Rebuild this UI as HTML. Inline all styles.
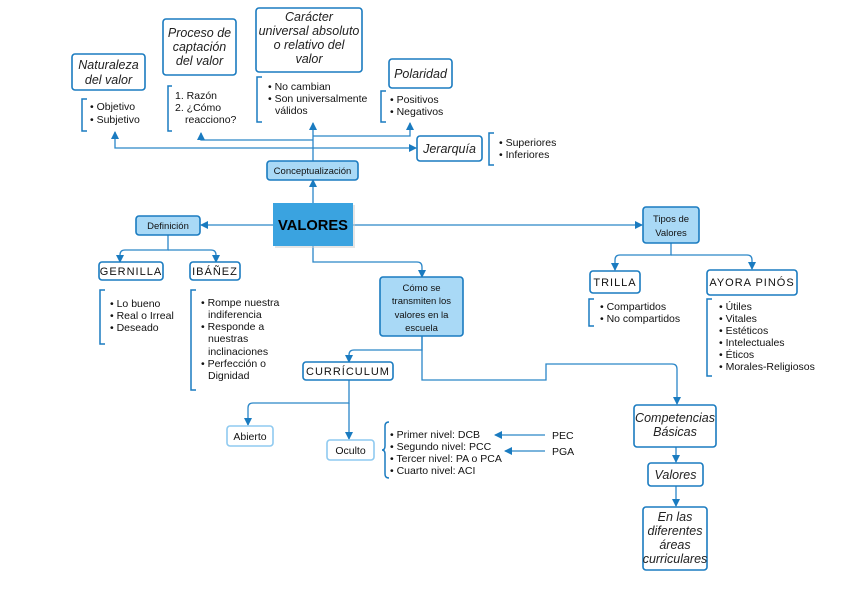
<!DOCTYPE html>
<html><head><meta charset="utf-8"><style>
html,body{margin:0;padding:0;background:#fff;}
svg{display:block}
.t{font-family:"Liberation Sans",sans-serif;font-size:10.5px;fill:#111}
.i{font-family:"Liberation Sans",sans-serif;font-style:italic;font-size:12.5px;fill:#222}
.c{font-family:"Liberation Sans",sans-serif;font-size:9.5px;fill:#111}
.h{font-family:"Liberation Sans",sans-serif;font-size:11px;fill:#111;letter-spacing:1px}
.box{fill:#fff;stroke:#1a7bc0;stroke-width:1.6}
.lb{fill:#a9d9f6;stroke:#1a7bc0;stroke-width:1.6}
.pale{fill:#fff;stroke:#8fcaf0;stroke-width:1.6}
.ln{fill:none;stroke:#2a86c8;stroke-width:1.3}
.br{fill:none;stroke:#1a7bc0;stroke-width:1.5}
</style></head><body>
<svg width="848" height="599" viewBox="0 0 848 599" xmlns="http://www.w3.org/2000/svg">
<defs><marker id="a" markerWidth="8" markerHeight="8" refX="7" refY="4" orient="auto" markerUnits="userSpaceOnUse"><path d="M0,0 L8,4 L0,8 z" fill="#1a7bc0"/></marker></defs>

<path class="ln" d="M313,203 V180" marker-end="url(#a)"/>
<path class="ln" d="M313,161 V123" marker-end="url(#a)"/>
<path class="ln" d="M313,148 H115 V132" marker-end="url(#a)"/>
<path class="ln" d="M313,148 H416" marker-end="url(#a)"/>
<path class="ln" d="M313,140 H201 V133" marker-end="url(#a)"/>
<path class="ln" d="M313,136 H410 V123" marker-end="url(#a)"/>
<path class="ln" d="M273,225 H201" marker-end="url(#a)"/>
<path class="ln" d="M168,235 V250 H125 Q120,250 120,255 V262" marker-end="url(#a)"/>
<path class="ln" d="M168,250 H211 Q216,250 216,255 V262" marker-end="url(#a)"/>
<path class="ln" d="M353,225 H642" marker-end="url(#a)"/>
<path class="ln" d="M313,246 V262 H417 Q422,262 422,267 V277" marker-end="url(#a)"/>
<path class="ln" d="M422,336 V350 H354 Q349,350 349,355 V362" marker-end="url(#a)"/>
<path class="ln" d="M422,336 V380 H546 V364 H672 Q677,364 677,369 V404" marker-end="url(#a)"/>
<path class="ln" d="M349,380 V403 H253 Q248,403 248,408 V425" marker-end="url(#a)"/>
<path class="ln" d="M349,403 V439" marker-end="url(#a)"/>
<path class="ln" d="M545,435 H495" marker-end="url(#a)"/>
<path class="ln" d="M545,451 H505" marker-end="url(#a)"/>
<path class="ln" d="M671,243 V255 H620 Q615,255 615,260 V270" marker-end="url(#a)"/>
<path class="ln" d="M671,255 H747 Q752,255 752,260 V269" marker-end="url(#a)"/>
<path class="ln" d="M676,447 V462" marker-end="url(#a)"/>
<path class="ln" d="M676,486 V506" marker-end="url(#a)"/>

<rect class="box" x="72" y="54" width="73" height="36" rx="3"/>
<text class="i" x="108.5" y="69" text-anchor="middle">Naturaleza</text>
<text class="i" x="108.5" y="84" text-anchor="middle">del valor</text>
<path class="br" d="M87,99 H82 V131 H87"/>
<text class="t" x="90" y="110">• Objetivo</text>
<text class="t" x="90" y="123">• Subjetivo</text>

<rect class="box" x="163" y="19" width="73" height="56" rx="3"/>
<text class="i" x="199.5" y="37" text-anchor="middle">Proceso de</text>
<text class="i" x="199.5" y="51" text-anchor="middle">captación</text>
<text class="i" x="199.5" y="65" text-anchor="middle">del valor</text>
<path class="br" d="M172,86 H168 V131 H172"/>
<text class="t" x="175" y="99">1. Razón</text>
<text class="t" x="175" y="111">2. ¿Cómo</text>
<text class="t" x="185" y="123">reacciono?</text>

<rect class="box" x="256" y="8" width="106" height="64" rx="3"/>
<text class="i" x="309" y="21" text-anchor="middle">Carácter</text>
<text class="i" x="309" y="35" text-anchor="middle">universal absoluto</text>
<text class="i" x="309" y="49" text-anchor="middle">o relativo del</text>
<text class="i" x="309" y="63" text-anchor="middle">valor</text>
<path class="br" d="M262,77 H257 V122 H262"/>
<text class="t" x="268" y="90">• No cambian</text>
<text class="t" x="268" y="102">• Son universalmente</text>
<text class="t" x="275" y="114">válidos</text>

<rect class="box" x="389" y="59" width="63" height="29" rx="3"/>
<text class="i" x="420.5" y="78" text-anchor="middle">Polaridad</text>
<path class="br" d="M386,91 H381 V122 H386"/>
<text class="t" x="390" y="103">• Positivos</text>
<text class="t" x="390" y="115">• Negativos</text>

<rect class="box" x="417" y="136" width="65" height="25" rx="3"/>
<text class="i" x="449.5" y="153" text-anchor="middle">Jerarquía</text>
<path class="br" d="M494,133 H489 V165 H494"/>
<text class="t" x="499" y="146">• Superiores</text>
<text class="t" x="499" y="158">• Inferiores</text>

<rect class="lb" x="267" y="161" width="91" height="19" rx="3"/>
<text class="c" x="312.5" y="174" text-anchor="middle">Conceptualización</text>

<rect x="275" y="205" width="80" height="43" fill="#ccc" opacity="0.5"/>
<rect x="273" y="203" width="80" height="43" fill="#3aa3e0"/>
<text x="313" y="230" text-anchor="middle" textLength="70" lengthAdjust="spacingAndGlyphs" style="font-family:'Liberation Sans',sans-serif;font-weight:bold;font-size:15px;fill:#000">VALORES</text>

<rect class="lb" x="136" y="216" width="64" height="19" rx="3"/>
<text class="c" x="168" y="229" text-anchor="middle">Definición</text>
<rect class="box" x="99" y="262" width="64" height="18" rx="3"/>
<text class="h" x="131" y="275" text-anchor="middle">GERNILLA</text>
<rect class="box" x="190" y="262" width="50" height="18" rx="3"/>
<text class="h" x="215" y="275" text-anchor="middle">IBÁÑEZ</text>
<path class="br" d="M105,290 H100 V344 H105"/>
<text class="t" x="110" y="307">• Lo bueno</text>
<text class="t" x="110" y="319">• Real o Irreal</text>
<text class="t" x="110" y="331">• Deseado</text>
<path class="br" d="M196,290 H191 V390 H196"/>
<text class="t" x="201" y="306">• Rompe nuestra</text>
<text class="t" x="208" y="318">indiferencia</text>
<text class="t" x="201" y="330">• Responde a</text>
<text class="t" x="208" y="342">nuestras</text>
<text class="t" x="208" y="355">inclinaciones</text>
<text class="t" x="201" y="367">• Perfección o</text>
<text class="t" x="208" y="379">Dignidad</text>

<rect class="lb" x="380" y="277" width="83" height="59" rx="3"/>
<text class="c" x="421.5" y="291" text-anchor="middle">Cómo se</text>
<text class="c" x="421.5" y="304" text-anchor="middle">transmiten los</text>
<text class="c" x="421.5" y="318" text-anchor="middle">valores en la</text>
<text class="c" x="421.5" y="331" text-anchor="middle">escuela</text>
<rect class="box" x="303" y="362" width="90" height="18" rx="3"/>
<text class="h" x="348" y="375" text-anchor="middle">CURRÍCULUM</text>
<rect class="pale" x="227" y="426" width="46" height="20" rx="3"/>
<text class="t" x="250" y="440" text-anchor="middle">Abierto</text>
<rect class="pale" x="327" y="440" width="47" height="20" rx="3"/>
<text class="t" x="350.5" y="454" text-anchor="middle">Oculto</text>
<path class="br" d="M389,422 Q385,422 385,426 V446 Q385,450 382,450 Q385,450 385,454 V474 Q385,478 389,478"/>
<text class="t" x="390" y="438">• Primer nivel: DCB</text>
<text class="t" x="390" y="450">• Segundo nivel: PCC</text>
<text class="t" x="390" y="462">• Tercer nivel: PA o PCA</text>
<text class="t" x="390" y="474">• Cuarto nivel: ACI</text>
<text class="t" x="552" y="439">PEC</text>
<text class="t" x="552" y="455">PGA</text>

<rect class="lb" x="643" y="207" width="56" height="36" rx="3"/>
<text class="c" x="671" y="222" text-anchor="middle">Tipos de</text>
<text class="c" x="671" y="236" text-anchor="middle">Valores</text>
<rect class="box" x="590" y="271" width="50" height="22" rx="3"/>
<text class="h" x="615" y="286" text-anchor="middle">TRILLA</text>
<rect class="box" x="707" y="270" width="90" height="25" rx="3"/>
<text class="h" x="752" y="286" text-anchor="middle">AYORA PINÓS</text>
<path class="br" d="M594,299 H589 V326 H594"/>
<text class="t" x="600" y="310">• Compartidos</text>
<text class="t" x="600" y="322">• No compartidos</text>
<path class="br" d="M712,299 H707 V376 H712"/>
<text class="t" x="719" y="310">• Útiles</text>
<text class="t" x="719" y="322">• Vitales</text>
<text class="t" x="719" y="334">• Estéticos</text>
<text class="t" x="719" y="346">• Intelectuales</text>
<text class="t" x="719" y="358">• Éticos</text>
<text class="t" x="719" y="370">• Morales-Religiosos</text>

<rect class="box" x="634" y="405" width="82" height="42" rx="3"/>
<text class="i" x="675" y="422" text-anchor="middle">Competencias</text>
<text class="i" x="675" y="436" text-anchor="middle">Básicas</text>
<rect class="box" x="648" y="463" width="55" height="23" rx="3"/>
<text class="i" x="675.5" y="479" text-anchor="middle">Valores</text>
<rect class="box" x="643" y="507" width="64" height="63" rx="3"/>
<text class="i" x="675" y="521" text-anchor="middle">En las</text>
<text class="i" x="675" y="535" text-anchor="middle">diferentes</text>
<text class="i" x="675" y="549" text-anchor="middle">áreas</text>
<text class="i" x="675" y="563" text-anchor="middle">curriculares</text>
</svg>
</body></html>
